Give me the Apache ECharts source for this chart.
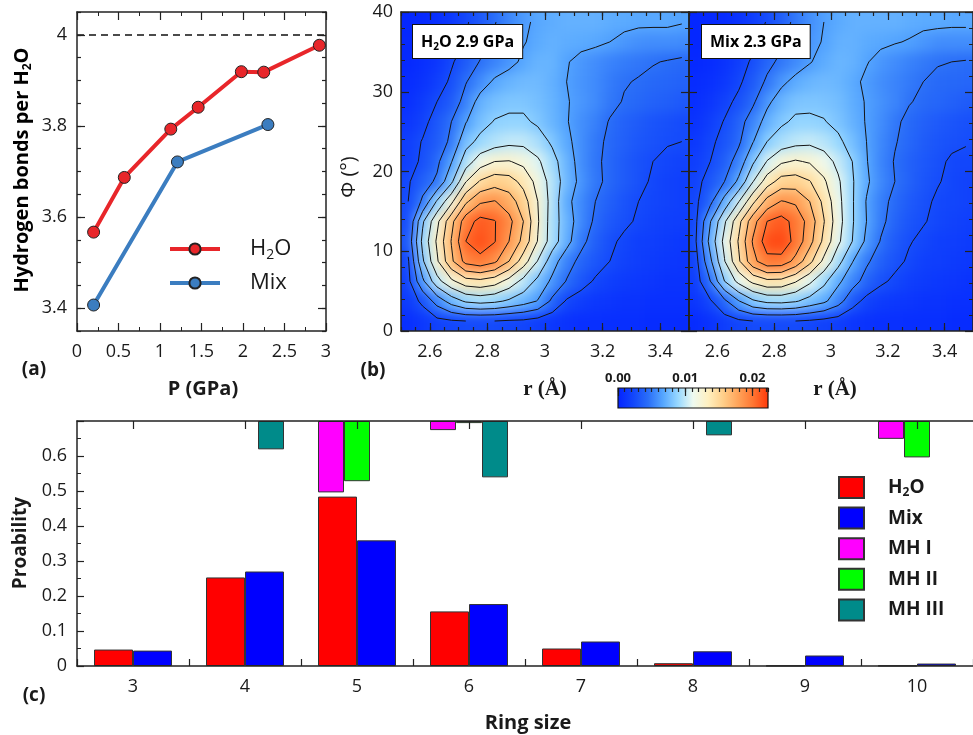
<!DOCTYPE html>
<html><head><meta charset="utf-8">
<script src="https://cdn.jsdelivr.net/npm/echarts@6/dist/echarts.min.js"></script>
<style>
html,body{margin:0;padding:0;background:#fff;overflow:hidden}
#wrap{position:relative;width:973px;height:735px;overflow:hidden}
#c{position:absolute;left:0;top:0;width:973px;height:735px;z-index:2}
.clip{position:absolute;overflow:hidden;z-index:1}
.heat{position:absolute;filter:blur(6px)}
</style>
</head><body><div id="wrap">
<div class="clip" id="clipL" style="left:401px;top:12px;width:288px;height:319px"><div class="heat" id="heatL"></div></div>
<div class="clip" id="clipR" style="left:689px;top:12px;width:287px;height:319px"><div class="heat" id="heatR"></div></div>
<div id="c"></div>
</div>
<script>
// ---------- Panel (a): hydrogen bonds per H2O vs pressure ----------
const pH2O  = [0.20, 0.57, 1.13, 1.46, 1.98, 2.25, 2.92];
const hbH2O = [3.567, 3.687, 3.793, 3.841, 3.919, 3.918, 3.977];
const pMix  = [0.20, 1.21, 2.30];
const hbMix = [3.407, 3.721, 3.803];
const hbRef = 4;
const aYTicks = [3.4, 3.6, 3.8, 4];

// ---------- Panel (b): joint distribution P(r, Phi) ----------
const rCenters   = [2.525,2.575,2.625,2.675,2.725,2.775,2.825,2.875,2.925,2.975,3.025,3.075,3.125,3.175,3.225,3.275,3.325,3.375,3.425,3.475];
const phiCenters = [1.25,3.75,6.25,8.75,11.25,13.75,16.25,18.75,21.25,23.75,26.25,28.75,31.25,33.75,36.25,38.75];
// density x 1e-4, rows from Phi = 1.25 (bottom) to 38.75 (top)
const densH2O = [
 [7,13,20,23,25,25,25,23,22,18,13,10,8,8,7,7,7,5,5,5],
 [15,29,53,74,88,92,89,82,74,64,41,23,17,13,12,10,10,8,8,8],
 [20,61,98,121,137,140,134,118,99,80,61,44,32,23,18,15,13,12,10,10],
 [23,82,122,161,192,199,189,165,135,104,74,53,40,32,25,20,17,15,13,12],
 [32,90,128,166,205,215,206,185,159,124,95,72,50,37,28,22,18,17,15,13],
 [26,82,120,159,196,211,206,191,165,127,95,74,56,42,33,28,23,20,18,17],
 [25,48,87,120,161,182,186,175,154,125,97,70,56,45,37,30,25,22,20,18],
 [23,37,48,81,124,147,156,153,139,118,97,76,60,49,41,34,29,23,20,18],
 [18,28,41,64,95,115,125,126,120,108,92,74,58,48,41,34,29,25,22,20],
 [17,26,34,49,78,90,96,100,100,94,82,69,58,49,42,37,32,29,26,25],
 [12,20,32,45,64,78,86,88,88,82,74,66,58,52,44,38,34,30,28,25],
 [8,15,25,34,52,72,78,81,81,78,73,66,61,56,49,44,41,38,36,33],
 [5,10,17,28,44,56,68,73,76,76,72,65,60,56,50,46,44,41,40,38],
 [3,7,12,23,34,46,53,60,68,73,73,66,61,57,53,50,48,46,44,42],
 [3,5,8,17,26,37,48,58,64,69,72,70,69,68,65,61,58,57,57,56],
 [2,3,7,13,23,33,44,54,62,68,70,72,72,72,70,69,68,68,68,66]
];
const densMix = [
 [5,10,17,22,25,25,25,25,23,20,17,12,10,8,8,7,7,7,5,5],
 [12,23,41,64,82,90,91,87,78,69,53,32,20,15,13,12,10,10,8,8],
 [17,45,85,111,130,140,139,127,109,90,69,53,38,28,22,17,15,13,12,10],
 [20,61,104,142,179,199,198,179,151,120,92,66,48,36,29,23,18,17,15,13],
 [25,72,111,147,187,215,218,199,172,140,109,85,61,44,33,26,22,18,17,15],
 [23,64,102,139,177,205,212,199,177,146,113,87,65,49,38,30,26,22,20,18],
 [22,40,72,104,140,172,186,182,165,140,111,87,64,50,41,33,28,23,22,20],
 [20,32,45,69,104,135,153,154,146,128,108,87,68,54,45,37,30,26,22,20],
 [17,25,36,53,82,106,122,127,123,114,100,85,66,53,44,37,32,28,23,22],
 [13,22,30,42,64,85,94,99,101,97,89,77,65,54,46,40,34,30,28,26],
 [10,17,26,38,54,72,82,88,88,86,80,72,64,56,48,41,37,33,30,28],
 [7,12,20,29,42,61,74,80,81,80,77,70,64,58,53,46,42,40,37,34],
 [5,8,13,22,34,48,61,70,74,76,74,69,62,57,53,49,45,42,41,40],
 [3,5,10,17,28,40,49,56,64,70,74,72,66,60,56,52,49,46,45,44],
 [2,3,7,12,20,32,42,53,61,66,72,72,69,68,66,64,60,57,57,57],
 [2,3,5,10,17,26,37,49,58,65,69,72,72,72,72,70,69,69,68,68]
];
const densScale = 1e-4;
const contourLevels = [25,45,65,85,105,125,145,165,185,205];
const rTicks   = [2.6, 2.8, 3.0, 3.2, 3.4];
const cbTicks  = [0, 0.01, 0.02];
const cbMax    = 0.0223;

// ---------- Panel (c): ring statistics ----------
const ringSizes = ['3','4','5','6','7','8','9','10'];
const probH2O = [0.047, 0.253, 0.484, 0.156, 0.050, 0.008, 0.0008, 0.0008];
const probMix = [0.044, 0.270, 0.359, 0.177, 0.070, 0.042, 0.030, 0.007];
const probMH1 = [null, null, 0.204, 0.026, null, null, null, 0.051];
const probMH2 = [null, null, 0.172, 0.006, null, null, null, 0.104];
const probMH3 = [null, 0.081, null, 0.161, null, 0.041, null, null];

// ================== build ==================
const FONT = "'Open Sans','Noto Sans',sans-serif";
const TC = '#1a1a1a';
const LC = '#222';
const CMAP = ['#0424ff','#1246fb','#2a6ef8','#55a6ff','#98d8ff','#eefaf0','#fff0c0','#ffcf8a','#ffa45a','#ff7632','#ff3a0a'];
const R_MIN = 2.5, R_MAX = 3.5, PHI_MIN = 0, PHI_MAX = 40;

function heatData(dens){
  const out = [];
  dens.forEach((row, j) => row.forEach((v, i) => out.push([rCenters[i], phiCenters[j], v*densScale])));
  return out;
}
const dr = rCenters[1]-rCenters[0], dp = phiCenters[1]-phiCenters[0];

// ---- blurred heat layers (drawn by ECharts, smoothed by CSS filter) ----
const PAD = 30;
function heatRenderPad(params, api){
  const r = api.value(0), p = api.value(1);
  const a = api.coord([r-dr/2, p+dp/2]);
  const b = api.coord([r+dr/2, p-dp/2]);
  let x0=a[0], y0=a[1], x1=b[0], y1=b[1];
  if (r-dr/2 <= R_MIN+1e-9) x0 -= PAD;
  if (r+dr/2 >= R_MAX-1e-9) x1 += PAD;
  if (p+dp/2 >= PHI_MAX-1e-9) y0 -= PAD;
  if (p-dp/2 <= PHI_MIN+1e-9) y1 += PAD;
  return {type:'rect', shape:{x:x0-0.5, y:y0-0.5, width:x1-x0+1, height:y1-y0+1}, style:{fill:api.visual('color')}};
}
function makeHeat(id, clipId, dens){
  const clip = document.getElementById(clipId);
  const w = clip.offsetWidth, h = clip.offsetHeight;
  const el = document.getElementById(id);
  el.style.left = (-PAD)+'px'; el.style.top = (-PAD)+'px';
  el.style.width = (w+2*PAD)+'px'; el.style.height = (h+2*PAD)+'px';
  const c = echarts.init(el);
  c.setOption({
    animation:false,
    grid:{left:PAD, top:PAD, width:w, height:h},
    xAxis:{type:'value', min:R_MIN, max:R_MAX, show:false},
    yAxis:{type:'value', min:PHI_MIN, max:PHI_MAX, show:false},
    visualMap:{show:false, type:'continuous', min:0, max:cbMax, dimension:2, inRange:{color:CMAP}},
    series:[{type:'custom', data:heatData(dens), renderItem:heatRenderPad, encode:{x:0, y:1}, clip:false, silent:true}]
  });
}
makeHeat('heatL', 'clipL', densH2O);
makeHeat('heatR', 'clipR', densMix);

function contourSegs(dens){
  const segs = [];
  contourLevels.forEach(L => {
    for (let j=0;j<phiCenters.length-1;j++) for (let i=0;i<rCenters.length-1;i++){
      const x0=rCenters[i], x1=rCenters[i+1], y0=phiCenters[j], y1=phiCenters[j+1];
      const v00=dens[j][i], v10=dens[j][i+1], v01=dens[j+1][i], v11=dens[j+1][i+1];
      const pts=[];
      const edge=(xa,ya,va,xb,yb,vb)=>{ if((va<L)!==(vb<L)){ const t=(L-va)/(vb-va); pts.push([xa+t*(xb-xa), ya+t*(yb-ya)]); } };
      edge(x0,y0,v00,x1,y0,v10);
      edge(x1,y0,v10,x1,y1,v11);
      edge(x1,y1,v11,x0,y1,v01);
      edge(x0,y1,v01,x0,y0,v00);
      if (pts.length===2) segs.push([pts[0][0],pts[0][1],pts[1][0],pts[1][1]]);
      else if (pts.length===4){ segs.push([pts[0][0],pts[0][1],pts[1][0],pts[1][1]]); segs.push([pts[2][0],pts[2][1],pts[3][0],pts[3][1]]); }
    }
  });
  return segs;
}
function segRender(params, api){
  const a = api.coord([api.value(0), api.value(1)]);
  const b = api.coord([api.value(2), api.value(3)]);
  return {type:'line', shape:{x1:a[0],y1:a[1],x2:b[0],y2:b[1]}, style:{stroke:'#151515', lineWidth:1}};
}
function stepValues(a, b, s){ const out=[]; for (let k=0; a+k*s <= b+1e-9; k++) out.push(+(a+k*s).toFixed(6)); return out; }

const labelStyle = {color:TC, fontSize:18, fontFamily:FONT};
const noLabel = {show:false};
function line(show){ return {show, onZero:false, lineStyle:{color:LC, width:1.5}}; }
function ticks(len, extra){ return Object.assign({show:true, inside:true, length:len, lineStyle:{color:LC, width:1.2}}, extra||{}); }
function minor(len, n){ return {show:true, splitNumber:n, length:len, lineStyle:{color:LC, width:1}}; }

const xAxes = [
  {gridIndex:0, type:'value', position:'bottom', min:0, max:3, interval:0.5, axisLine:line(true), axisTick:ticks(8), minorTick:minor(4,2), splitLine:{show:false}, axisLabel:Object.assign({margin:12}, labelStyle), z:10},
  {gridIndex:0, type:'value', position:'top', min:0, max:3, interval:0.5, axisLine:line(true), axisTick:ticks(8), minorTick:minor(4,2), splitLine:{show:false}, axisLabel:noLabel, z:10},
  {gridIndex:1, type:'value', position:'bottom', min:R_MIN, max:R_MAX, axisLine:line(true), axisTick:ticks(8,{customValues:rTicks}), splitLine:{show:false}, axisLabel:Object.assign({margin:12, customValues:rTicks}, labelStyle), z:10},
  {gridIndex:1, type:'value', position:'bottom', min:R_MIN, max:R_MAX, interval:0.05, axisLine:line(false), axisTick:ticks(4), splitLine:{show:false}, axisLabel:noLabel, z:10},
  {gridIndex:1, type:'value', position:'top', min:R_MIN, max:R_MAX, axisLine:line(true), axisTick:ticks(8,{customValues:rTicks}), splitLine:{show:false}, axisLabel:{show:false, customValues:rTicks}, z:10},
  {gridIndex:1, type:'value', position:'top', min:R_MIN, max:R_MAX, interval:0.05, axisLine:line(false), axisTick:ticks(4), splitLine:{show:false}, axisLabel:noLabel, z:10},
  {gridIndex:2, type:'value', position:'bottom', min:R_MIN, max:R_MAX, axisLine:line(true), axisTick:ticks(8,{customValues:rTicks}), splitLine:{show:false}, axisLabel:Object.assign({margin:12, customValues:rTicks}, labelStyle), z:10},
  {gridIndex:2, type:'value', position:'bottom', min:R_MIN, max:R_MAX, interval:0.05, axisLine:line(false), axisTick:ticks(4), splitLine:{show:false}, axisLabel:noLabel, z:10},
  {gridIndex:2, type:'value', position:'top', min:R_MIN, max:R_MAX, axisLine:line(true), axisTick:ticks(8,{customValues:rTicks}), splitLine:{show:false}, axisLabel:{show:false, customValues:rTicks}, z:10},
  {gridIndex:2, type:'value', position:'top', min:R_MIN, max:R_MAX, interval:0.05, axisLine:line(false), axisTick:ticks(4), splitLine:{show:false}, axisLabel:noLabel, z:10},
  {gridIndex:3, type:'value', position:'top', min:0, max:cbMax, axisLine:line(false), axisTick:ticks(8,{customValues:cbTicks}), splitLine:{show:false},
   axisLabel:{customValues:cbTicks, formatter:v=>v.toFixed(2), margin:3, color:TC, fontSize:13, fontWeight:'bold', fontFamily:FONT}, z:10},
  {gridIndex:3, type:'value', position:'top', min:0, max:cbMax, interval:0.001, axisLine:line(false), axisTick:ticks(4), splitLine:{show:false}, axisLabel:noLabel, z:10},
  {gridIndex:4, type:'category', position:'bottom', data:ringSizes, axisLine:line(true), axisTick:ticks(7), axisLabel:Object.assign({margin:12}, labelStyle), z:10},
  {gridIndex:4, type:'category', position:'top', data:ringSizes, axisLine:line(true), axisTick:ticks(8,{alignWithLabel:true}), axisLabel:noLabel, z:10}
];
const yAxes = [
  {gridIndex:0, type:'value', position:'left', min:3.35, max:4.05, axisLine:line(true), axisTick:ticks(8,{customValues:aYTicks}), splitLine:{show:false},
   axisLabel:Object.assign({margin:10, customValues:aYTicks}, labelStyle), z:10},
  {gridIndex:0, type:'value', position:'left', min:3.35, max:4.05, axisLine:line(false), axisTick:ticks(4,{customValues:stepValues(3.35,4.05,0.05)}), splitLine:{show:false}, axisLabel:{show:false, customValues:[]}, z:10},
  {gridIndex:0, type:'value', position:'right', min:3.35, max:4.05, axisLine:line(true), axisTick:ticks(8,{customValues:aYTicks}), splitLine:{show:false}, axisLabel:{show:false, customValues:aYTicks}, z:10},
  {gridIndex:0, type:'value', position:'right', min:3.35, max:4.05, axisLine:line(false), axisTick:ticks(4,{customValues:stepValues(3.35,4.05,0.05)}), splitLine:{show:false}, axisLabel:{show:false, customValues:[]}, z:10},
  {gridIndex:1, type:'value', position:'left', min:PHI_MIN, max:PHI_MAX, interval:10, axisLine:line(true), axisTick:ticks(8), minorTick:minor(4,5), splitLine:{show:false}, axisLabel:Object.assign({margin:8}, labelStyle), z:10},
  {gridIndex:1, type:'value', position:'right', min:PHI_MIN, max:PHI_MAX, interval:10, axisLine:line(true), axisTick:ticks(8), minorTick:minor(4,5), splitLine:{show:false}, axisLabel:noLabel, z:10},
  {gridIndex:2, type:'value', position:'left', min:PHI_MIN, max:PHI_MAX, interval:10, axisLine:line(true), axisTick:ticks(8), minorTick:minor(4,5), splitLine:{show:false}, axisLabel:noLabel, z:10},
  {gridIndex:2, type:'value', position:'right', min:PHI_MIN, max:PHI_MAX, interval:10, axisLine:line(true), axisTick:ticks(8), minorTick:minor(4,5), splitLine:{show:false}, axisLabel:noLabel, z:10},
  {gridIndex:3, type:'value', show:false, min:0, max:1},
  {gridIndex:4, type:'value', position:'left', min:0, max:0.7, interval:0.1, axisLine:line(true), axisTick:ticks(7), minorTick:minor(4,2), splitLine:{show:false},
   axisLabel:Object.assign({margin:10, showMaxLabel:false}, labelStyle), z:10},
  {gridIndex:4, type:'value', show:false, inverse:true, min:0, max:0.7}
];

const barStyle = c => ({color:c, borderColor:'#333', borderWidth:1});
const subRich = (size, weight) => ({
  t:{fontSize:size, fontWeight:weight, fontFamily:FONT, color:TC, lineHeight:size+4, verticalAlign:'middle'},
  s:{fontSize:Math.round(size*0.62), fontWeight:weight, fontFamily:FONT, color:TC, lineHeight:Math.round(size*0.62), verticalAlign:'bottom'}
});

const option = {
  animation:false,
  backgroundColor:'transparent',
  textStyle:{fontFamily:FONT},
  grid:[
    {left:77, top:12, width:249, height:319},
    {left:401, top:12, width:288, height:319},
    {left:689, top:12, width:287, height:319},
    {left:618, top:388, width:150, height:20},
    {left:77, top:421, width:904, height:245}
  ],
  xAxis:xAxes,
  yAxis:yAxes,
  legend:[
    {data:['H2O_a','Mix_a'], orient:'vertical', left:163, top:233, itemWidth:50, itemHeight:14, itemGap:10,
     lineStyle:{width:4},
     formatter:n => n==='H2O_a' ? '{t|H}{s|2}{t|O}' : '{t|Mix}',
     textStyle:{padding:[0,0,0,25], rich:subRich(22,'normal')}, selectedMode:false},
    {data:['H2O_c','Mix_c','MH I','MH II','MH III'], orient:'vertical', left:833, top:471, itemWidth:25, itemHeight:21, itemGap:7.6, icon:'rect',
     formatter:n => n==='H2O_c' ? '{t|H}{s|2}{t|O}' : (n==='Mix_c' ? '{t|Mix}' : '{t|'+n+'}'),
     textStyle:{padding:[0,0,0,19], rich:subRich(19,'bold')}, selectedMode:false}
  ],
  series:[
    {name:'H2O_a', type:'line', xAxisIndex:0, yAxisIndex:0, data:pH2O.map((p,i)=>[p,hbH2O[i]]),
     lineStyle:{color:'#e8262a', width:4}, itemStyle:{color:'#e8262a', borderColor:'#222', borderWidth:1}, symbol:'circle', symbolSize:12, z:3,
     markLine:{silent:true, symbol:'none', label:{show:false}, lineStyle:{type:[7,5], color:'#111', width:1.5}, data:[{yAxis:hbRef}]}},
    {name:'Mix_a', type:'line', xAxisIndex:0, yAxisIndex:0, data:pMix.map((p,i)=>[p,hbMix[i]]),
     lineStyle:{color:'#3b7dc0', width:4}, itemStyle:{color:'#3b7dc0', borderColor:'#222', borderWidth:1}, symbol:'circle', symbolSize:12, z:3},
    {name:'contH2O', type:'custom', xAxisIndex:2, yAxisIndex:4, data:contourSegs(densH2O), renderItem:segRender, encode:{x:[0,2], y:[1,3]}, clip:true, silent:true, z:2},
    {name:'contMix', type:'custom', xAxisIndex:6, yAxisIndex:6, data:contourSegs(densMix), renderItem:segRender, encode:{x:[0,2], y:[1,3]}, clip:true, silent:true, z:2},
    {name:'H2O_c', type:'bar', xAxisIndex:12, yAxisIndex:9, data:probH2O, barWidth:39, barGap:'0%', itemStyle:barStyle('#ff0000')},
    {name:'Mix_c', type:'bar', xAxisIndex:12, yAxisIndex:9, data:probMix, barWidth:39, barGap:'0%', itemStyle:barStyle('#0000ff')},
    {name:'MH I', type:'bar', xAxisIndex:13, yAxisIndex:10, data:probMH1, barWidth:26, barGap:'0%', itemStyle:barStyle('#ff00ff')},
    {name:'MH II', type:'bar', xAxisIndex:13, yAxisIndex:10, data:probMH2, barWidth:26, barGap:'0%', itemStyle:barStyle('#00ff00')},
    {name:'MH III', type:'bar', xAxisIndex:13, yAxisIndex:10, data:probMH3, barWidth:26, barGap:'0%', itemStyle:barStyle('#008b8a')}
  ],
  graphic:[
    {type:'text', x:22, y:170, rotation:Math.PI/2, z:100, style:{text:'{t|Hydrogen bonds per H}{s|2}{t|O}', rich:subRich(20,'bold'), align:'center', verticalAlign:'middle'}},
    {type:'text', x:203, y:389, z:100, style:{text:'P (GPa)', fontSize:20, fontWeight:'bold', fontFamily:FONT, fill:TC, align:'center', verticalAlign:'middle'}},
    {type:'text', x:34, y:370, z:100, style:{text:'(a)', fontSize:19, fontWeight:'bold', fontFamily:FONT, fill:TC, align:'center', verticalAlign:'middle'}},
    {type:'text', x:373, y:371, z:100, style:{text:'(b)', fontSize:19, fontWeight:'bold', fontFamily:FONT, fill:TC, align:'center', verticalAlign:'middle'}},
    {type:'text', x:34, y:696, z:100, style:{text:'(c)', fontSize:19, fontWeight:'bold', fontFamily:FONT, fill:TC, align:'center', verticalAlign:'middle'}},
    {type:'text', x:349, y:177, rotation:Math.PI/2, z:100, style:{text:'Φ (°)', fontSize:20, fontFamily:FONT, fill:TC, align:'center', verticalAlign:'middle'}},
    {type:'text', x:545, y:390, z:100, style:{text:'r (Å)', fontSize:21, fontWeight:'bold', fontFamily:"'Liberation Serif',serif", fill:TC, align:'center', verticalAlign:'middle'}},
    {type:'text', x:835, y:390, z:100, style:{text:'r (Å)', fontSize:21, fontWeight:'bold', fontFamily:"'Liberation Serif',serif", fill:TC, align:'center', verticalAlign:'middle'}},
    {type:'text', x:21, y:543, rotation:Math.PI/2, z:100, style:{text:'Proability', fontSize:19, fontWeight:'bold', fontFamily:FONT, fill:TC, align:'center', verticalAlign:'middle'}},
    {type:'text', x:528, y:723, z:100, style:{text:'Ring size', fontSize:20, fontWeight:'bold', fontFamily:FONT, fill:TC, align:'center', verticalAlign:'middle'}},
    {type:'text', x:413, y:25, z:100, style:{text:'{t|H}{s|2}{t|O 2.9 GPa}', rich:subRich(16,'bold'), backgroundColor:'#fff', borderColor:'#111', borderWidth:1, padding:[7,8,6,8]}},
    {type:'text', x:702, y:25, z:100, style:{text:'{t|Mix 2.3 GPa}', rich:subRich(16,'bold'), backgroundColor:'#fff', borderColor:'#111', borderWidth:1, padding:[7,8,6,8]}},
    {type:'rect', x:618, y:388, z:1, shape:{width:150, height:20},
     style:{fill:{type:'linear', x:0, y:0, x2:1, y2:0, colorStops:CMAP.map((c,i)=>({offset:i/(CMAP.length-1), color:c}))}}},
    {type:'rect', x:618, y:388, z:100, shape:{width:150, height:20}, style:{fill:'none', stroke:'#111', lineWidth:1.2}}
  ]
};
const chart = echarts.init(document.getElementById('c'));
chart.setOption(option);
</script>
</body></html>
